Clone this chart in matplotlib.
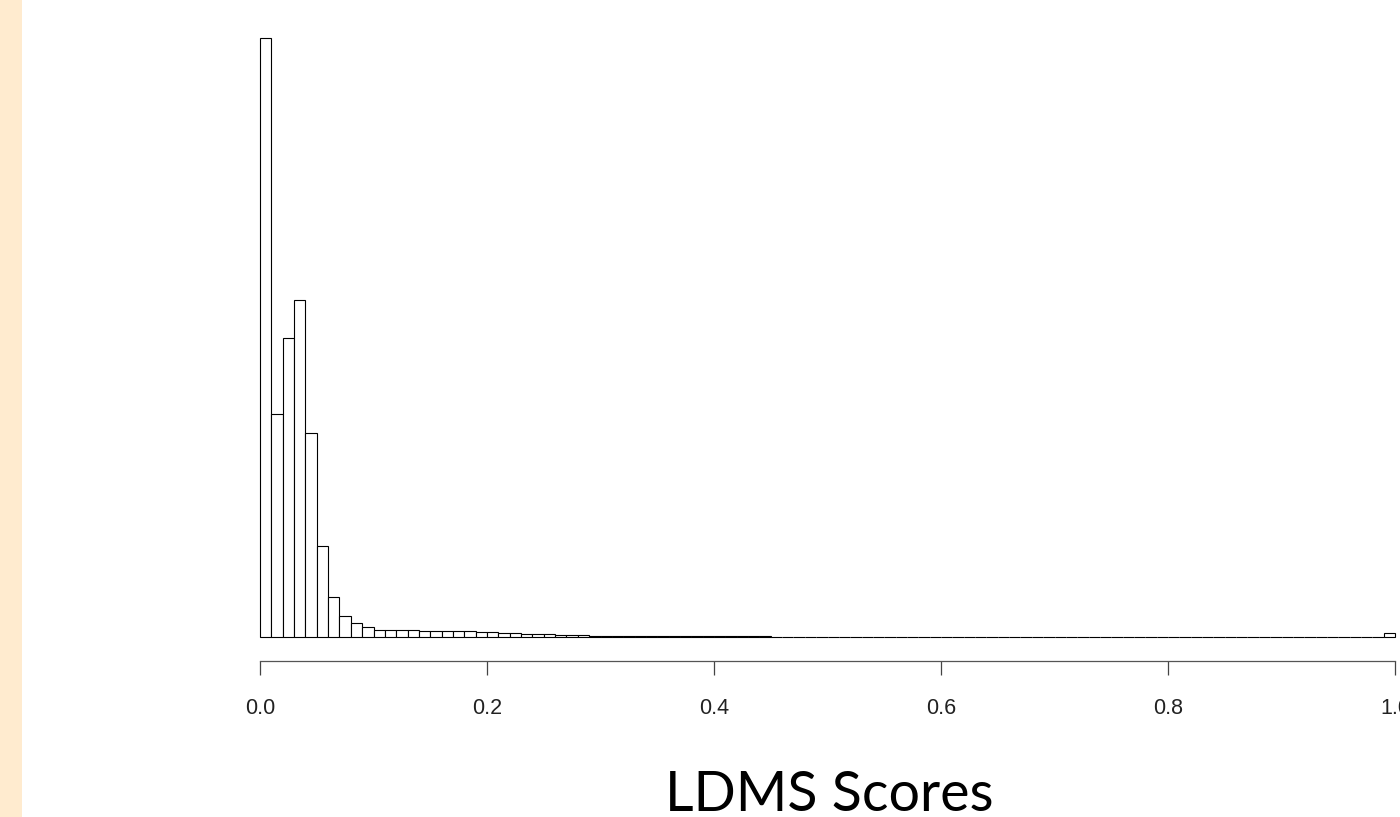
import numpy as np
import matplotlib
import matplotlib.pyplot as plt
from matplotlib.patches import Rectangle

matplotlib.use("Agg")

# histogram counts per 0.01-wide bin
bin_width = 0.01
counts = [
    6000, 2230, 3000, 3380, 2040, 910, 400, 210, 140, 100,
    72, 68, 66, 66, 65, 64, 62, 60, 56, 52,
    48, 44, 40, 34, 30, 26, 22, 19, 17, 15,
    13, 12, 10, 9, 9, 8, 8, 8, 7, 7,
    7, 6, 6, 6, 6, 5, 5, 5, 5, 5,
    5, 4, 4, 4, 4, 4, 4, 4, 4, 4,
    4, 3, 3, 3, 3, 3, 3, 3, 3, 3,
    3, 3, 3, 3, 3, 3, 3, 3, 3, 3,
    3, 2, 2, 2, 2, 2, 2, 2, 2, 2,
    2, 2, 2, 2, 2, 2, 2, 3, 3, 40,
]
tick_values = [0.0, 0.2, 0.4, 0.6, 0.8, 1.0]
tick_labels = ["0.0", "0.2", "0.4", "0.6", "0.8", "1.0"]
x_label = "LDMS Scores"

W, H, DPI = 1400, 817, 100
fig = plt.figure(figsize=(W / DPI, H / DPI), dpi=DPI)

# beige strip on the left edge
fig.patches.append(Rectangle((0, 0), 22 / W, 1, transform=fig.transFigure,
                             facecolor="#FFEBCF", edgecolor="none", zorder=0))

ax = fig.add_axes([260 / W, (H - 637) / H, (1395 - 260) / W, (637 - 38) / H])
left = np.arange(len(counts)) * bin_width
ax.bar(left, counts, width=bin_width, align="edge", facecolor="white",
       edgecolor="black", linewidth=0.8, clip_on=False)

ax.set_xlim(0, 1)
ax.set_ylim(0, max(counts))
for s in ["left", "right", "top"]:
    ax.spines[s].set_visible(False)
ax.spines["bottom"].set_position(("outward", 17))
ax.spines["bottom"].set_bounds(0, 1)
ax.spines["bottom"].set_color("#555555")
ax.spines["bottom"].set_linewidth(0.9)
ax.set_yticks([])
ax.set_xticks(tick_values)
ax.set_xticklabels(tick_labels, fontsize=15.5, family="Liberation Sans", color="#222222")
ax.tick_params(axis="x", length=10, width=0.9, color="#444444", pad=17)
ax.patch.set_visible(False)

fig.text(829 / W, 1 - 811 / H, x_label, ha="center", va="baseline",
         fontsize=40, family="Lato", color="black")

fig.savefig("out.png", dpi=DPI, facecolor="white")
